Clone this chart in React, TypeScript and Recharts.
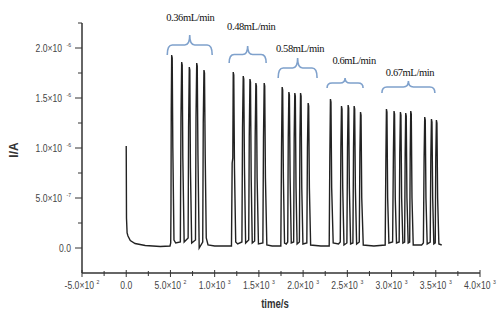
import React from "react";
import { LineChart, Line, XAxis, YAxis, ReferenceArea, ReferenceDot } from "recharts";

// [time (s), current (×10⁻⁶ A)]
const startTrace: [number, number][] = [
  [0, 1.02], [3, 0.3], [10, 0.15], [20, 0.12], [46, 0.075], [100, 0.045], [215, 0.025], [385, 0.015], [495, 0.02],
];
const group1Trace: [number, number][] = [
  [503, 0.05], [506, 0.4], [509, 1.35], [514, 1.93], [520, 1.9], [527, 1.0], [540, 0.08], [560, 0.05],
  [612, 0.06], [619, 1.3], [627, 1.86], [633, 1.83], [640, 0.9], [655, 0.06],
  [700, 0.1], [705, 1.2], [713, 1.81], [719, 1.78], [726, 0.8], [740, 0.05],
  [783, 0.08], [789, 1.3], [797, 1.85], [803, 1.82], [811, 0.93], [825, 0.0],
  [865, 0.06], [871, 1.25], [879, 1.78], [885, 1.75], [893, 0.93], [905, 0.1], [925, 0.03],
  [1000, 0.02], [1150, 0.02], [1190, 0.02],
];
const group2Trace: [number, number][] = [
  [1198, 0.85], [1205, 0.9], [1210, 1.76], [1216, 1.73], [1224, 0.8], [1238, 0.06], [1260, 0.04],
  [1308, 0.06], [1315, 1.2], [1323, 1.72], [1329, 1.69], [1337, 0.8], [1350, 0.05],
  [1385, 0.08], [1391, 1.1], [1399, 1.69], [1405, 1.66], [1413, 0.7], [1425, 0.05],
  [1452, 0.07], [1458, 1.1], [1466, 1.65], [1472, 1.62], [1480, 0.7], [1495, 0.04],
  [1545, 0.05], [1552, 1.1], [1560, 1.65], [1566, 1.62], [1574, 0.7], [1590, 0.03],
  [1650, 0.02], [1748, 0.02],
];
const group3Trace: [number, number][] = [
  [1756, 1.0], [1763, 1.61], [1769, 1.58], [1777, 0.7], [1790, 0.05], [1810, 0.04],
  [1826, 0.06], [1832, 1.1], [1839, 1.56], [1845, 1.53], [1853, 0.7], [1866, 0.05],
  [1893, 0.06], [1899, 1.1], [1906, 1.55], [1912, 1.52], [1920, 0.6], [1932, 0.04],
  [1958, 0.06], [1964, 1.1], [1971, 1.55], [1977, 1.52], [1985, 0.6], [1998, 0.04],
  [2042, 0.05], [2049, 1.0], [2057, 1.45], [2063, 1.42], [2071, 0.6], [2085, 0.03],
  [2200, 0.02], [2295, 0.02],
];
const group4Trace: [number, number][] = [
  [2302, 0.9], [2309, 1.49], [2315, 1.46], [2323, 0.6], [2340, 0.05], [2400, 0.04],
  [2420, 0.06], [2427, 1.0], [2434, 1.42], [2440, 1.39], [2448, 0.6], [2462, 0.03],
  [2495, 0.05], [2502, 1.0], [2509, 1.43], [2515, 1.4], [2523, 0.6], [2537, 0.04],
  [2563, 0.05], [2570, 1.0], [2577, 1.42], [2583, 1.39], [2591, 0.6], [2605, 0.04],
  [2635, 0.06], [2642, 0.95], [2649, 1.36], [2655, 1.33], [2663, 0.5], [2680, 0.03],
  [2800, 0.02], [2928, 0.03],
];
const group5Trace: [number, number][] = [
  [2936, 0.9], [2942, 1.39], [2948, 1.36], [2956, 0.5], [2970, 0.05], [3012, 0.06],
  [3021, 0.95], [3028, 1.37], [3034, 1.34], [3042, 0.5], [3056, 0.05],
  [3086, 0.06], [3093, 0.95], [3100, 1.36], [3106, 1.33], [3114, 0.5], [3128, 0.05],
  [3148, 0.06], [3154, 0.95], [3160, 1.35], [3166, 1.32], [3174, 0.5], [3188, 0.05],
  [3205, 0.06], [3211, 0.95], [3217, 1.37], [3223, 1.34], [3231, 0.5], [3245, 0.03],
  [3340, 0.03], [3360, 0.05], [3368, 0.9], [3375, 1.31], [3381, 1.28], [3389, 0.5], [3403, 0.04],
  [3437, 0.06], [3444, 0.9], [3451, 1.29], [3457, 1.26], [3465, 0.5], [3478, 0.04],
  [3494, 0.05], [3500, 0.9], [3507, 1.28], [3513, 1.25], [3521, 0.5], [3535, 0.04], [3567, 0.03],
];

// flow-rate annotations
const flowLabels = ["0.36mL/min", "0.48mL/min", "0.58mL/min", "0.6mL/min", "0.67mL/min"];
const braceStart = [464, 1164, 1718, 2271, 2891];
const braceEnd = [972, 1582, 2158, 2678, 3490];
const braceTop = [2.13, 2.02, 1.9, 1.7, 1.67];
const braceBottom = [1.93, 1.85, 1.7, 1.6, 1.55];
const labelTime = [724, 1413, 1966, 2576, 3208];
const labelCurrent = [2.31, 2.22, 2.0, 1.88, 1.76];

// axis ticks
const xMajorTicks = [-500, 0, 500, 1000, 1500, 2000, 2500, 3000, 3500, 4000];
const xMajorMantissa = ["-5.0", "0.0", "5.0", "1.0", "1.5", "2.0", "2.5", "3.0", "3.5", "4.0"];
const xMajorExp = ["2", "", "2", "3", "3", "3", "3", "3", "3", "3"];
const xMinorTicks = [-250, 250, 750, 1250, 1750, 2250, 2750, 3250, 3750];
const yMajorTicks = [0, 0.5, 1, 1.5, 2];
const yMajorMantissa = ["0.0", "5.0", "1.0", "1.5", "2.0"];
const yMajorExp = ["", "-7", "-6", "-6", "-6"];
const yMinorTicks = [0.25, 0.75, 1.25, 1.75, 2.25];

const trace = [...startTrace, ...group1Trace, ...group2Trace, ...group3Trace, ...group4Trace, ...group5Trace];
const data = trace.map(([t, c]) => ({ t, c }));

const tickFont = "'Liberation Sans', Arial, sans-serif";
const braceColor = "#7fa1cc";

const XTick = (props: any) => {
  const { x, y, payload } = props;
  const i = xMajorTicks.indexOf(payload.value);
  if (i < 0) {
    return <line x1={x} x2={x} y1={y - 2} y2={y + 3} stroke="#333" strokeWidth={1} />;
  }
  return (
    <g>
      <line x1={x} x2={x} y1={y - 3} y2={y + 4} stroke="#333" strokeWidth={1} />
      <text transform={`translate(${x} ${y + 16}) scale(0.86 1)`} x={0} y={0} textAnchor="middle" fontFamily={tickFont} fontSize={10} fill="#444">
        {xMajorMantissa[i]}
        {xMajorExp[i] ? "×10" : ""}
        {xMajorExp[i] ? (
          <tspan dy={-5} fontSize={6} dx={3}>{xMajorExp[i]}</tspan>
        ) : null}
      </text>
    </g>
  );
};

const YTick = (props: any) => {
  const { x, y, payload } = props;
  const i = yMajorTicks.indexOf(payload.value);
  if (i < 0) {
    return <line x1={x - 4} x2={x} y1={y} y2={y} stroke="#333" strokeWidth={1} />;
  }
  return (
    <g>
      <line x1={x - 7} x2={x} y1={y} y2={y} stroke="#333" strokeWidth={1} />
      <text transform={`translate(${x - 11} ${y + 3.5}) scale(0.86 1)`} x={0} y={0} textAnchor="end" fontFamily={tickFont} fontSize={10} fill="#444">
        {yMajorMantissa[i]}
        {yMajorExp[i] ? "×10" : ""}
        {yMajorExp[i] ? (
          <tspan dy={-5} fontSize={6} dx={5}>{yMajorExp[i]}</tspan>
        ) : null}
      </text>
    </g>
  );
};

const Brace = (props: any) => {
  const { x, y, width, height } = props;
  const cx = x + width / 2;
  const hm = y + height * 0.5;
  const r = 5;
  const d = `M ${x} ${y + height} Q ${x} ${hm} ${x + r} ${hm} L ${cx - r} ${hm} Q ${cx} ${hm} ${cx} ${y} Q ${cx} ${hm} ${cx + r} ${hm} L ${x + width - r} ${hm} Q ${x + width} ${hm} ${x + width} ${y + height}`;
  return <path d={d} fill="none" stroke={braceColor} strokeWidth={1.6} />;
};

const makeLabel = (text: string) => (props: any) => {
  const { cx, cy } = props;
  return (
    <text x={cx} y={cy} textAnchor="middle" dominantBaseline="central" fontFamily="'Liberation Serif', 'Times New Roman', serif" fontSize={10.5} letterSpacing={-0.4} fill="#111">
      {text}
    </text>
  );
};

export default function App() {
  return (
    <div style={{ position: "absolute", left: 0, top: 0 }}>
      <LineChart width={498} height={320} data={data} margin={{ top: 23, right: 18, left: 0, bottom: 0 }}>
        <XAxis
          dataKey="t"
          type="number"
          domain={[-500, 4000]}
          ticks={[...xMajorTicks, ...xMinorTicks].sort((a, b) => a - b)}
          tick={<XTick />}
          tickSize={0}
          tickMargin={0}
          tickLine={false}
          axisLine={{ stroke: "#333", strokeWidth: 1.5 }}
          height={47}
          interval={0}
          allowDataOverflow
        />
        <YAxis
          type="number"
          domain={[-0.25, 2.25]}
          ticks={[...yMajorTicks, ...yMinorTicks].sort((a, b) => a - b)}
          tick={<YTick />}
          tickSize={0}
          tickMargin={0}
          tickLine={false}
          axisLine={{ stroke: "#333", strokeWidth: 1.5 }}
          width={82}
          interval={0}
          allowDataOverflow
        />
        <Line type="linear" dataKey="c" stroke="#222" strokeWidth={1.4} dot={false} isAnimationActive={false} />
        {flowLabels.map((lab, i) => (
          <ReferenceArea
            key={"b" + i}
            x1={braceStart[i]}
            x2={braceEnd[i]}
            y1={braceBottom[i]}
            y2={braceTop[i]}
            ifOverflow="visible"
            shape={<Brace />}
          />
        ))}
        {flowLabels.map((lab, i) => (
          <ReferenceDot
            key={"l" + i}
            x={labelTime[i]}
            y={labelCurrent[i]}
            r={0}
            ifOverflow="visible"
            shape={makeLabel(lab)}
          />
        ))}
        <text x={14} y={150} transform="rotate(-90 14 150)" textAnchor="middle" dominantBaseline="central" fontFamily="'Liberation Sans', Arial, sans-serif" fontWeight="bold" fontSize={12} fill="#333">
          I/A
        </text>
        <text transform="translate(275 308) scale(0.8 1)" x={0} y={0} textAnchor="middle" fontFamily="'Liberation Sans', Arial, sans-serif" fontWeight="bold" fontSize={12} fill="#333">
          time/s
        </text>
      </LineChart>
    </div>
  );
}
